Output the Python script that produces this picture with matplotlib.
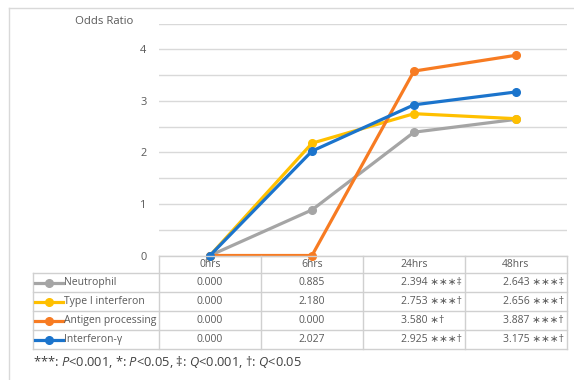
import matplotlib
matplotlib.use("Agg")
import matplotlib.pyplot as plt
from matplotlib.lines import Line2D

# ---- data -------------------------------------------------------------
timepoints = ["0hrs", "6hrs", "24hrs", "48hrs"]
series_names = ["Neutrophil", "Type I interferon", "Antigen processing", "Interferon-γ"]
neutrophil = [0.000, 0.885, 2.394, 2.643]
type1_ifn = [0.000, 2.180, 2.753, 2.656]
antigen_proc = [0.000, 0.000, 3.580, 3.887]
ifn_gamma = [0.000, 2.027, 2.925, 3.175]
neutrophil_sig = ["", "", "∗∗∗‡", "∗∗∗‡"]
type1_ifn_sig = ["", "", "∗∗∗†", "∗∗∗†"]
antigen_proc_sig = ["", "", "∗†", "∗∗∗†"]
ifn_gamma_sig = ["", "", "∗∗∗†", "∗∗∗†"]
yticks = [0, 1, 2, 3, 4]

series = [neutrophil, type1_ifn, antigen_proc, ifn_gamma]
sigs = [neutrophil_sig, type1_ifn_sig, antigen_proc_sig, ifn_gamma_sig]
colors = ["#A5A5A5", "#FFC000", "#F77B22", "#1B74CC"]

plt.rcParams["font.family"] = ["Open Sans", "DejaVu Sans"]
plt.rcParams["mathtext.fontset"] = "custom"
plt.rcParams["mathtext.rm"] = "Open Sans"
plt.rcParams["mathtext.it"] = "Open Sans:italic"

W, H = 574, 380
fig = plt.figure(figsize=(W / 100, H / 100), dpi=100)
txt = "#595959"
grid_c = "#D9D9D9"
fs = 7.5

def fx(px):
    return px / W

def fy(py):
    return 1 - py / H

# plot area
x_left, x_right = 159, 567
y_top, y_bot = 23.7, 255.5
ax = fig.add_axes([fx(x_left), fy(y_bot), fx(x_right) - fx(x_left), fy(y_top) - fy(y_bot)])
ax.set_xlim(-0.5, len(timepoints) - 0.5)
ax.set_ylim(0, 4.5)
grid_levels = [0, 0.5, 1, 1.5, 2, 2.5, 3, 3.5, 4, 4.5]
ax.set_yticks(grid_levels)
ax.set_yticklabels([str(t) if t in yticks else "" for t in grid_levels])
ax.tick_params(axis="y", length=0, pad=9, labelsize=fs + 0.4, labelcolor=txt)
ax.set_xticks([])
ax.grid(axis="y", color=grid_c, linewidth=1)
ax.set_axisbelow(True)
for s in ax.spines.values():
    s.set_visible(False)
ax.patch.set_alpha(0)

xs = list(range(len(timepoints)))
for vals, c in zip(series, colors):
    ax.plot(xs, vals, color=c, lw=2.3, marker="o", ms=5.5, clip_on=False, zorder=3)

fig.text(fx(133), fy(22), "Odds Ratio", ha="right", va="center", fontsize=fs + 0.7, color=txt)

# outer chart border
fig.add_artist(Line2D([fx(9), fx(9)], [fy(8), 0], color=grid_c, lw=1))
fig.add_artist(Line2D([fx(9), 1], [fy(8), fy(8)], color=grid_c, lw=1))

# data table
tbl_left = 32.7
col_w = (x_right - x_left) / len(timepoints)
row_tops = [273.3, 292.3, 311.2, 330.1, 349.0]
lc = "#D0D0D0"

def hline(x0, x1, y):
    fig.add_artist(Line2D([fx(x0), fx(x1)], [fy(y), fy(y)], color=lc, lw=1))

def vline(x, y0, y1):
    fig.add_artist(Line2D([fx(x), fx(x)], [fy(y0), fy(y1)], color=lc, lw=1))

hline(x_left, x_right, y_bot)
for y in row_tops:
    hline(tbl_left, x_right, y)
for i in range(len(timepoints) + 1):
    vline(x_left + i * col_w, y_bot, row_tops[-1])
vline(tbl_left, row_tops[0], row_tops[-1])

for i, t in enumerate(timepoints):
    fig.text(fx(x_left + (i + 0.5) * col_w), fy((y_bot + row_tops[0]) / 2), t,
             ha="center", va="center", fontsize=fs, color=txt)

for r, (name, vals, sg, c) in enumerate(zip(series_names, series, sigs, colors)):
    yc = (row_tops[r] + row_tops[r + 1]) / 2
    fig.add_artist(Line2D([fx(35), fx(63)], [fy(yc), fy(yc)], color=c, lw=2.3))
    fig.add_artist(Line2D([fx(49)], [fy(yc)], color=c, marker="o", ms=5.5))
    fig.text(fx(64), fy(yc), name, ha="left", va="center", fontsize=fs, color=txt)
    for i, (v, s) in enumerate(zip(vals, sg)):
        if s:
            fig.text(fx(x_left + i * col_w + 38), fy(yc), f"{v:.3f} {s}",
                     ha="left", va="center", fontsize=fs, color=txt)
        else:
            fig.text(fx(x_left + (i + 0.5) * col_w), fy(yc), f"{v:.3f}",
                     ha="center", va="center", fontsize=fs, color=txt)

fig.text(fx(33), fy(362),
         r"***: $\mathit{P}$<0.001, *: $\mathit{P}$<0.05, ‡: $\mathit{Q}$<0.001, †: $\mathit{Q}$<0.05",
         ha="left", va="center", fontsize=9.3, color="#404040")

fig.savefig("out.png", dpi=100, facecolor="white")
